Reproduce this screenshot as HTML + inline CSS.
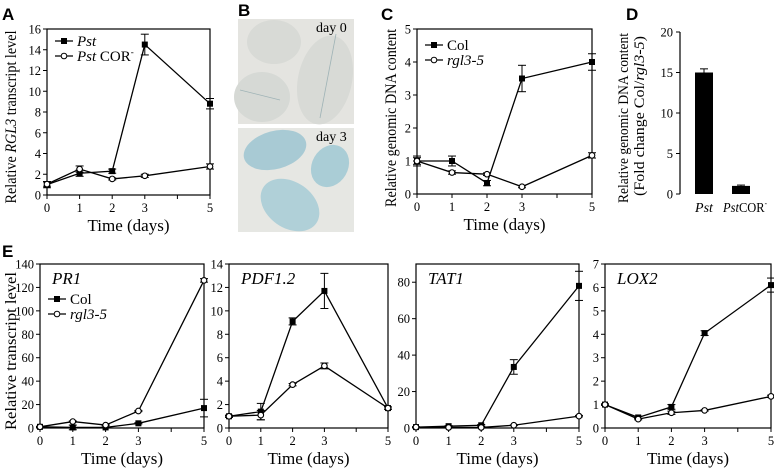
<!DOCTYPE html>
<html><head><meta charset="utf-8"><style>
body{margin:0;background:#fff;}
svg{display:block;font-family:"Liberation Serif",serif;}
.pl{font-family:"Liberation Sans",sans-serif;font-weight:bold;font-size:17px;}
</style></head><body>
<svg id="fig" width="774" height="468" viewBox="0 0 774 468" xmlns="http://www.w3.org/2000/svg">
<text class="pl" x="2" y="20">A</text>
<text class="pl" x="238" y="16">B</text>
<text class="pl" x="381" y="20">C</text>
<text class="pl" x="626" y="20">D</text>
<text class="pl" x="2" y="257">E</text>
<g>
<rect x="238" y="19" width="116" height="105" fill="#e4e4e0"/>
<ellipse cx="274" cy="42" rx="27" ry="22" fill="#d8dad6"/>
<ellipse cx="262" cy="97" rx="28" ry="25" fill="#d6d9d5"/>
<ellipse cx="325" cy="80" rx="27" ry="45" fill="#d8dad6" transform="rotate(12 325 80)"/>
<line x1="240" y1="90" x2="280" y2="100" stroke="#9fb3b6" stroke-width="0.8"/>
<line x1="336" y1="34" x2="320" y2="118" stroke="#9fb3b6" stroke-width="0.8"/>
<text x="316" y="32" font-size="14">day 0</text>
</g>
<g>
<rect x="238" y="128" width="116" height="104" fill="#e6e7e3"/>
<ellipse cx="275" cy="150" rx="32" ry="19" fill="#a8cad4" transform="rotate(-15 275 150)"/>
<ellipse cx="330" cy="166" rx="18" ry="22" fill="#aacdd6" transform="rotate(30 330 166)"/>
<ellipse cx="290" cy="205" rx="32" ry="23" fill="#b0d0d8" transform="rotate(35 290 205)"/>
<text x="316" y="141" font-size="14">day 3</text>
</g>
</svg>
<script>
const NS="http://www.w3.org/2000/svg";
const svg=document.getElementById('fig');
// Panel A data
const aDays=[0,1,2,3,5];
const aPst=[1.0,2.1,2.3,14.5,8.8];
const aPstErr=[0.3,0.3,0.2,1.0,0.5];
const aCor=[1.05,2.5,1.55,1.85,2.75];
const aCorErr=[0.2,0.3,0.1,0.15,0.25];
const aTicks=[0,2,4,6,8,10,12,14,16];
// Panel C data
const cDays=[0,1,2,3,5];
const cCol=[1.0,1.0,0.33,3.5,4.0];
const cColErr=[0.15,0.15,0.08,0.4,0.25];
const cRgl=[1.0,0.65,0.6,0.22,1.17];
const cRglErr=[0.1,0.05,0.04,0.03,0.08];
const cTicks=[0,1,2,3,4,5];
// Panel D data
const dCats=["Pst","Pst COR"];
const dVals=[15.0,1.0];
const dErr=[0.45,0.1];
const dTicks=[0,5,10,15,20];
// Panel E data
const eDays=[0,1,2,3,5];
const prCol=[1,0.5,0.5,4,17];
const prColErr=[0.5,2,0.5,0.5,7.5];
const prRgl=[1,5.5,2.5,14.5,126];
const prRglErr=[0.3,0.5,0.3,0.5,1.5];
const prTicks=[0,20,40,60,80,100,120,140];
const pdCol=[1,1.4,9.1,11.7,1.7];
const pdColErr=[0.1,0.7,0.3,1.5,0.1];
const pdRgl=[1,1.1,3.7,5.3,1.7];
const pdRglErr=[0.05,0.4,0.1,0.25,0.1];
const pdTicks=[0,2,4,6,8,10,12,14];
const taCol=[0.5,1,1.5,33.5,78];
const taColErr=[0.2,0.3,0.4,4,8];
const taRgl=[0.5,0.3,0.3,1.5,6.5];
const taRglErr=[0.1,0.1,0.1,0.2,0.4];
const taTicks=[0,20,40,60,80];
const loCol=[1,0.45,0.9,4.05,6.1];
const loColErr=[0.03,0.05,0.1,0.1,0.3];
const loRgl=[1,0.38,0.65,0.75,1.35];
const loRglErr=[0.03,0.03,0.07,0.03,0.05];
const loTicks=[0,1,2,3,4,5,6,7];

function el(tag,attrs,parent){const e=document.createElementNS(NS,tag);for(const k in attrs)e.setAttribute(k,attrs[k]);(parent||svg).appendChild(e);return e;}
function txt(s,x,y,size,anchor,parent){const t=el('text',{x:x,y:y,'font-size':size,'text-anchor':anchor||'start'},parent);t.innerHTML=s;return t;}

function lineChart(o){
  const g=el('g',{});
  
  
  const X=d=>o.x0+(o.x1-o.x0)*d/5;
  const Y=v=>o.yb-(o.yb-o.yt)*v/o.ymax;
  el('rect',{x:o.x0,y:o.yt,width:o.x1-o.x0,height:o.yb-o.yt,fill:'none',stroke:'#000','stroke-width':1.2},g);
  o.yticks.forEach(t=>{const y=Y(t);el('line',{x1:o.x0-4,y1:y,x2:o.x0,y2:y,stroke:'#000'},g);
    const lb=txt(String(t),o.x0-6,y+4.5,12.5,'end',g);});
  [0,1,2,3,4,5].forEach(d=>{el('line',{x1:X(d),y1:o.yb,x2:X(d),y2:o.yb+4,stroke:'#000'},g);});
  o.days.forEach(d=>{const lb=txt(String(d),X(d),o.yb+17,12.5,'middle',g);});
  const xt=txt('Time (days)',(o.x0+o.x1)/2,o.yb+36,17,'middle',g);
  
  o.series.forEach((s,si)=>{
    const sg=el('g',{},g);
    
    
    const pts=s.vals.map((v,i)=>X(o.days[i])+','+Y(v)).join(' ');
    el('polyline',{points:pts,fill:'none',stroke:'#000','stroke-width':1.3},sg);
    s.vals.forEach((v,i)=>{const x=X(o.days[i]),e=s.err[i];
      el('line',{x1:x,y1:Y(v-e),x2:x,y2:Y(v+e),stroke:'#000'},sg);
      el('line',{x1:x-4,y1:Y(v-e),x2:x+4,y2:Y(v-e),stroke:'#000'},sg);
      el('line',{x1:x-4,y1:Y(v+e),x2:x+4,y2:Y(v+e),stroke:'#000'},sg);
      if(s.filled){const m=el('rect',{x:x-3,y:Y(v)-3,width:6,height:6,fill:'#000'},sg);}
      else{const m=el('circle',{cx:x,cy:Y(v),r:2.8,fill:'#fff',stroke:'#000','stroke-width':1.1},sg);}
    });
  });
  if(o.title){const t=txt(o.title,o.x0+12,o.yt+20,17,'start',g);t.setAttribute('font-style','italic');}
  if(o.legend){o.legend.forEach((l,i)=>{const ly=o.legY+i*15,lx=o.x0+8;
    const lg=el('g',{},g);
    el('line',{x1:lx,y1:ly,x2:lx+18,y2:ly,stroke:'#000','stroke-width':1.3},lg);
    if(l.filled)el('rect',{x:lx+6,y:ly-3,width:6,height:6,fill:'#000'},lg);
    else el('circle',{cx:lx+9,cy:ly,r:2.8,fill:'#fff',stroke:'#000'},lg);
    const t=txt(l.label,lx+22,ly+5,15,'start',lg);});}
  if(o.ytitle){const t=txt(o.ytitle,0,0,16,'middle',g);t.setAttribute('textLength',o.ylen);t.setAttribute('lengthAdjust','spacingAndGlyphs');
    t.setAttribute('transform','translate('+o.ytx+','+o.ycy+') rotate(-90)');}
}

lineChart({name:'chart-a-rgl3',x0:47,x1:210,yt:29,yb:195,ymax:16,yticks:aTicks,days:aDays,
 series:[{name:'series-pst',vals:aPst,err:aPstErr,filled:true},{name:'series-pst-cor',vals:aCor,err:aCorErr,filled:false}],
 legend:[{label:'<tspan font-style="italic">Pst</tspan>',filled:true},{label:'<tspan font-style="italic">Pst</tspan> COR<tspan font-size="9" dy="-6">-</tspan>',filled:false}],legY:41,
 ytitle:'Relative <tspan font-style="italic">RGL3</tspan> transcript level',ytx:16,ycy:117,ylen:173});
lineChart({name:'chart-c-dna',x0:417,x1:592,yt:29,yb:194,ymax:5,yticks:cTicks,days:cDays,
 series:[{name:'series-col',vals:cCol,err:cColErr,filled:true},{name:'series-rgl3-5',vals:cRgl,err:cRglErr,filled:false}],
 legend:[{label:'Col',filled:true},{label:'<tspan font-style="italic">rgl3-5</tspan>',filled:false}],legY:45,
 ytitle:'Relative genomic DNA content',ytx:396,ycy:118,ylen:178});
lineChart({name:'chart-e-pr1',x0:40,x1:204,yt:264,yb:428,ymax:140,yticks:prTicks,days:eDays,title:'PR1',
 series:[{name:'series-col',vals:prCol,err:prColErr,filled:true},{name:'series-rgl3-5',vals:prRgl,err:prRglErr,filled:false}],
 legend:[{label:'Col',filled:true},{label:'<tspan font-style="italic">rgl3-5</tspan>',filled:false}],legY:299,
 ytitle:'Relative transcript level',ytx:16,ycy:351,ylen:158});
lineChart({name:'chart-e-pdf12',x0:229,x1:388,yt:264,yb:428,ymax:14,yticks:pdTicks,days:eDays,title:'PDF1.2',
 series:[{name:'series-col',vals:pdCol,err:pdColErr,filled:true},{name:'series-rgl3-5',vals:pdRgl,err:pdRglErr,filled:false}]});
lineChart({name:'chart-e-tat1',x0:416,x1:579,yt:264,yb:428,ymax:90,yticks:taTicks,days:eDays,title:'TAT1',
 series:[{name:'series-col',vals:taCol,err:taColErr,filled:true},{name:'series-rgl3-5',vals:taRgl,err:taRglErr,filled:false}]});
lineChart({name:'chart-e-lox2',x0:605,x1:771,yt:264,yb:428,ymax:7,yticks:loTicks,days:eDays,title:'LOX2',
 series:[{name:'series-col',vals:loCol,err:loColErr,filled:true},{name:'series-rgl3-5',vals:loRgl,err:loRglErr,filled:false}]});

// Panel D bar chart
(function(){
  const g=el('g',{});
  
  
  const x0=680,yt=32,yb=194,ymax=20;
  const Y=v=>yb-(yb-yt)*v/ymax;
  el('line',{x1:x0,y1:yt,x2:x0,y2:yb,stroke:'#000','stroke-width':1.2},g);
  dTicks.forEach(t=>{el('line',{x1:x0-4,y1:Y(t),x2:x0,y2:Y(t),stroke:'#000'},g);
    const lb=txt(String(t),x0-7,Y(t)+4.5,12.5,'end',g);});
  const cx=[704,741];
  dVals.forEach((v,i)=>{
    const b=el('rect',{x:cx[i]-9,y:Y(v),width:18,height:yb-Y(v),fill:'#000'},g);
    
    
    el('line',{x1:cx[i],y1:Y(v+dErr[i]),x2:cx[i],y2:Y(v),stroke:'#000'},g);
    el('line',{x1:cx[i]-4,y1:Y(v+dErr[i]),x2:cx[i]+4,y2:Y(v+dErr[i]),stroke:'#000'},g);
  });
  const l1=txt('<tspan font-style="italic">Pst</tspan>',cx[0],212,14,'middle',g);
  
  const l2=txt('<tspan font-style="italic">Pst</tspan>COR<tspan font-size="8" dy="-6">-</tspan>',cx[1]+4,212,14,'middle',g);
  l2.setAttribute('textLength',44);l2.setAttribute('lengthAdjust','spacingAndGlyphs');
  
  const t1=txt('Relative genomic DNA content',0,0,15,'middle',g);
  t1.setAttribute('textLength',170);t1.setAttribute('lengthAdjust','spacingAndGlyphs');
  t1.setAttribute('transform','translate(628,118) rotate(-90)');
  
  const t2=txt('(Fold change Col/<tspan font-style="italic">rgl3-5</tspan>)',0,0,15,'middle',g);
  t2.setAttribute('textLength',160);t2.setAttribute('lengthAdjust','spacingAndGlyphs');
  t2.setAttribute('transform','translate(644,116) rotate(-90)');
  
})();
</script>
</body></html>
